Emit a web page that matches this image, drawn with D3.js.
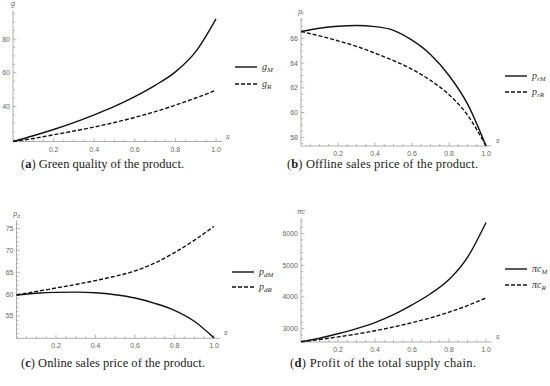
<!DOCTYPE html>
<html>
<head>
<meta charset="utf-8">
<script src="https://cdnjs.cloudflare.com/ajax/libs/d3/7.8.5/d3.min.js"></script>
<style>
  body { margin: 0; background: #fff; }
  svg { display: block; }
</style>
</head>
<body>
<svg id="chart" width="550" height="386"></svg>
<script>
// s values shared by all four panels
var sValues = [0, 0.1, 0.2, 0.3, 0.4, 0.5, 0.6, 0.7, 0.8, 0.9, 1.0];
var sTicks = [0.2, 0.4, 0.6, 0.8, 1.0];

// (a) green quality
var gM = [19.2, 22.6, 26.3, 30.4, 35, 40, 45.8, 52.5, 60.5, 72.5, 92];
var gR = [19.2, 21, 23.2, 25.4, 27.8, 30.5, 33.5, 36.9, 40.8, 45, 49.6];
var gTicks = [40, 60, 80];

// (b) offline price
var prM = [66.55, 66.82, 66.98, 67.04, 66.95, 66.65, 65.85, 64.7, 63.0, 60.7, 57.3];
var prR = [66.55, 66.2, 65.8, 65.35, 64.8, 64.2, 63.5, 62.6, 61.45, 59.8, 57.3];
var prTicks = [58, 60, 62, 64, 66];

// (c) online price
var pdM = [59.8, 60.2, 60.4, 60.45, 60.3, 59.85, 59.1, 57.9, 56.3, 53.8, 50.0];
var pdR = [59.8, 60.6, 61.4, 62.2, 63.1, 64.1, 65.3, 67.1, 69.5, 72.3, 75.5];
var pdTicks = [55, 60, 65, 70, 75];

// (d) total profit
var pcM = [2590, 2700, 2840, 3000, 3190, 3440, 3750, 4100, 4550, 5250, 6350];
var pcR = [2590, 2660, 2740, 2830, 2935, 3055, 3190, 3340, 3520, 3730, 3970];
var pcTicks = [3000, 4000, 5000, 6000];

var svg = d3.select('#chart');

function panel(opt) {
  var x = d3.scaleLinear().domain([0, 1.0]).range(opt.xr);
  var y = d3.scaleLinear().domain(opt.yd).range(opt.yr);
  var g = svg.append('g');
  var tickColor = '#9a9a9a';
  var labelColor = '#666';

  // x axis
  g.append('line')
    .attr('x1', x(0)).attr('x2', x(1.03))
    .attr('y1', y(opt.yd[0])).attr('y2', y(opt.yd[0]))
    .attr('stroke', tickColor).attr('stroke-width', 0.8);
  d3.range(0.05, 1.001, 0.05).forEach(function(t) {
    var major = Math.abs(t * 5 - Math.round(t * 5)) < 1e-6;
    g.append('line')
      .attr('x1', x(t)).attr('x2', x(t))
      .attr('y1', y(opt.yd[0])).attr('y2', y(opt.yd[0]) - (major ? 3.5 : 2))
      .attr('stroke', tickColor).attr('stroke-width', 0.7);
  });
  g.selectAll('.xl').data(sTicks).enter().append('text')
    .attr('x', function(d) { return x(d); })
    .attr('y', y(opt.yd[0]) + 10)
    .attr('text-anchor', 'middle')
    .attr('font-family', 'Liberation Sans, Arial, sans-serif')
    .attr('font-size', 7)
    .attr('fill', labelColor)
    .text(function(d) { return d.toFixed(1); });
  g.append('text')
    .attr('x', x(1.0) + 10).attr('y', y(opt.yd[0]) - 3)
    .attr('font-family', 'Liberation Sans, Arial, sans-serif')
    .attr('font-style', 'italic')
    .attr('font-size', 7)
    .attr('fill', labelColor)
    .text('s');

  // y axis
  g.append('line')
    .attr('x1', x(0)).attr('x2', x(0))
    .attr('y1', y(opt.yd[0])).attr('y2', y(opt.yd[1]))
    .attr('stroke', tickColor).attr('stroke-width', 0.8);
  var minor = d3.range(Math.ceil(opt.yd[0] / opt.minor) * opt.minor, opt.yd[1], opt.minor);
  minor.forEach(function(v) {
    var major = opt.ticks.indexOf(Math.round(v * 1000) / 1000) >= 0;
    g.append('line')
      .attr('x1', x(0)).attr('x2', x(0) + (major ? 3.5 : 2))
      .attr('y1', y(v)).attr('y2', y(v))
      .attr('stroke', tickColor).attr('stroke-width', 0.7);
  });
  g.selectAll('.yl').data(opt.ticks).enter().append('text')
    .attr('x', x(0) - 3)
    .attr('y', function(d) { return y(d) + 2.5; })
    .attr('text-anchor', 'end')
    .attr('font-family', 'Liberation Sans, Arial, sans-serif')
    .attr('font-size', 7)
    .attr('fill', labelColor)
    .text(function(d) { return d; });
  var yl = g.append('text')
    .attr('x', x(0)).attr('y', y(opt.yd[1]) - 4)
    .attr('text-anchor', 'middle')
    .attr('font-family', 'Liberation Sans, Arial, sans-serif')
    .attr('font-style', 'italic')
    .attr('font-size', 7)
    .attr('fill', labelColor);
  yl.append('tspan').text(opt.ylab[0]);
  if (opt.ylab[1]) yl.append('tspan').attr('font-size', 5).attr('dy', 1.5).text(opt.ylab[1]);

  // curves
  var line = d3.line()
    .x(function(d, i) { return x(sValues[i]); })
    .y(function(d) { return y(d); })
    .curve(d3.curveMonotoneX);
  g.append('path').attr('d', line(opt.sM))
    .attr('fill', 'none').attr('stroke', '#111').attr('stroke-width', 1.4);
  g.append('path').attr('d', line(opt.sR))
    .attr('fill', 'none').attr('stroke', '#111').attr('stroke-width', 1.4)
    .attr('stroke-dasharray', '4,2');

  // legend
  opt.legend.forEach(function(item, i) {
    var ly = opt.ly[i];
    g.append('line')
      .attr('x1', opt.lx).attr('x2', opt.lx + 22)
      .attr('y1', ly).attr('y2', ly)
      .attr('stroke', '#111').attr('stroke-width', 1.4)
      .attr('stroke-dasharray', i ? '4,2' : null);
    var t = g.append('text')
      .attr('x', opt.lx + 27).attr('y', ly + 3)
      .attr('font-family', 'Liberation Serif, serif')
      .attr('font-style', 'italic')
      .attr('font-size', 10)
      .attr('fill', '#333');
    t.append('tspan').text(item[0]);
    t.append('tspan').attr('font-size', 7).attr('dy', 2).text(item[1]);
  });

  // caption
  var c = svg.append('text')
    .attr('x', opt.cap[0]).attr('y', opt.cap[1])
    .attr('font-family', 'Liberation Serif, serif')
    .attr('font-size', 12.5)
    .attr('fill', '#222')
    .attr('textLength', opt.cap[2])
    .attr('lengthAdjust', 'spacing');
  c.append('tspan').text('(');
  c.append('tspan').attr('font-weight', 'bold').text(opt.letter);
  c.append('tspan').text(') ' + opt.caption);
}

panel({
  xr: [13, 216], yd: [19.2, 97], yr: [141.5, 10.4],
  ticks: gTicks, minor: 5, ylab: ['g'],
  sM: gM, sR: gR,
  legend: [['g', 'M'], ['g', 'R']], lx: 235, ly: [67, 84],
  cap: [21, 168, 163], letter: 'a', caption: 'Green quality of the product.'
});

panel({
  xr: [301, 486], yd: [57.3, 67.66], yr: [146, 17.8],
  ticks: prTicks, minor: 0.5, ylab: ['p', 'r'],
  sM: prM, sR: prR,
  legend: [['p', 'rM'], ['p', 'rR']], lx: 505, ly: [76, 92],
  cap: [287, 168, 191], letter: 'b', caption: 'Offline sales price of the product.'
});

panel({
  xr: [16.5, 214], yd: [49.9, 76.9], yr: [338.3, 220.2],
  ticks: pdTicks, minor: 1, ylab: ['p', 'd'],
  sM: pdM, sR: pdR,
  legend: [['p', 'dM'], ['p', 'dR']], lx: 232, ly: [272, 287],
  cap: [21, 367, 184], letter: 'c', caption: 'Online sales price of the product.'
});

panel({
  xr: [301, 486], yd: [2580, 6490], yr: [342, 218],
  ticks: pcTicks, minor: 200, ylab: ['πc'],
  sM: pcM, sR: pcR,
  legend: [['πc', 'M'], ['πc', 'R']], lx: 505, ly: [269, 285],
  cap: [290, 367, 186], letter: 'd', caption: 'Profit of the total supply chain.'
});
</script>
</body>
</html>
